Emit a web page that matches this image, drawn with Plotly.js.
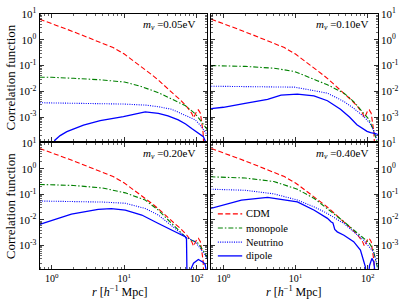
<!DOCTYPE html>
<html>
<head>
<meta charset="utf-8">
<script src="https://cdn.plot.ly/plotly-3.0.1.min.js"></script>
<style>html,body{margin:0;padding:0;background:#fff}#chart{width:399px;height:300px}</style>
</head>
<body>
<div id="chart"></div>
<script>
// ---- data (r in h^-1 Mpc, correlation function values) ----
const panelLabels = ["0.05eV", "0.10eV", "0.20eV", "0.40eV"];
const seriesNames = ["CDM", "monopole", "Neutrino", "dipole"];

const cdmR = [0.68, 1, 1.6, 2.5, 4.6, 7, 10, 14, 18.3, 25, 30, 38.6, 50, 59, 73, 85, 90, 95, 100, 105, 112, 118, 122, 127, 140];
const cdmV = [6.3, 4.3, 2.6, 1.6, 0.79, 0.5, 0.28, 0.14, 0.08, 0.04, 0.026, 0.013, 0.007, 0.0047, 0.0025, 0.0014, 0.00095, 0.00126, 0.00174, 0.0019, 0.0014, 0.0005, 0.00025, 0.000025, 0.000025];

// m_nu = 0.05 eV
const mono05R = [0.68, 1, 2, 4.6, 10, 16.5, 30, 45, 59, 69, 80, 95, 110, 130, 140];
const mono05V = [0.035, 0.035, 0.032, 0.028, 0.023, 0.016, 0.0087, 0.005, 0.0035, 0.0028, 0.002, 0.00135, 0.0008, 0.00043, 0.00032];
const neu05R = [0.68, 2, 5, 10, 20, 30, 45, 60, 80, 95, 110, 130, 140];
const neu05V = [0.0036, 0.0035, 0.0034, 0.0032, 0.0029, 0.0025, 0.002, 0.0014, 0.001, 0.00078, 0.0005, 0.00027, 0.0002];
const dip05R = [1.0, 1.1, 1.3, 1.61, 2.73, 4.64, 9.7, 19.4, 29.5, 40, 55.5, 70, 85, 100, 123, 134, 140];
const dip05V = [0.00005, 0.000126, 0.00019, 0.00027, 0.00049, 0.00072, 0.00105, 0.00158, 0.0014, 0.00112, 0.00078, 0.00054, 0.00036, 0.00026, 0.000174, 0.0001, 0.00005];

// m_nu = 0.10 eV
const mono10R = [0.68, 2, 5, 9.7, 20, 27.7, 47, 64, 88, 105, 120, 135, 140];
const mono10V = [0.1, 0.093, 0.079, 0.059, 0.026, 0.018, 0.0085, 0.004, 0.0014, 0.00079, 0.00032, 0.000126, 0.00008];
const neu10R = [0.68, 2, 5, 9.7, 27.7, 47, 64, 88, 105, 120, 135, 140];
const neu10V = [0.0158, 0.0155, 0.0148, 0.0145, 0.0085, 0.004, 0.0022, 0.00105, 0.00063, 0.00032, 0.00014, 0.0001];
const dip10R = [0.66, 1, 2, 4.1, 6.3, 10.6, 18, 27.7, 42, 56, 71, 85, 98, 110, 120, 135, 140];
const dip10V = [0.0021, 0.0024, 0.0034, 0.0049, 0.0071, 0.0078, 0.0066, 0.0043, 0.002, 0.001, 0.0005, 0.00035, 0.00028, 0.00025, 0.00024, 0.00022, 0.0002];

// m_nu = 0.20 eV
const mono20R = [0.68, 2, 5, 10.3, 19.4, 29.5, 50, 69, 85, 105, 130, 140];
const mono20V = [0.245, 0.224, 0.178, 0.115, 0.06, 0.024, 0.0054, 0.0022, 0.0016, 0.0012, 0.00049, 0.00032];
const neu20R = [0.68, 2, 5, 10.3, 19.4, 29.5, 50, 69, 95, 130, 140];
const neu20V = [0.055, 0.054, 0.05, 0.045, 0.028, 0.0155, 0.0047, 0.0022, 0.0014, 0.00042, 0.00028];
const dip20R = [0.68, 1, 1.86, 4.35, 6.6, 10.3, 17.4, 29.5, 50, 69, 72, 73.5, 78, 82, 90, 105, 122, 130, 137];
const dip20V = [0.0066, 0.0095, 0.017, 0.026, 0.0275, 0.024, 0.0155, 0.0072, 0.0034, 0.0022, 0.0018, 0.000025, 0.000025, 0.00011, 0.0002, 0.00028, 0.00022, 0.00018, 0.00008];

// m_nu = 0.40 eV
const mono40R = [0.66, 2, 5, 10.6, 18.2, 27.7, 46.9, 64, 88, 105, 120, 130, 140];
const mono40V = [0.49, 0.44, 0.32, 0.16, 0.069, 0.028, 0.0085, 0.004, 0.0019, 0.00126, 0.00066, 0.00025, 0.0001];
const neu40R = [0.66, 2, 5, 10.6, 18.2, 27.7, 46.9, 64, 88, 120, 135, 140];
const neu40V = [0.16, 0.145, 0.105, 0.06, 0.032, 0.0178, 0.0072, 0.0034, 0.0016, 0.00056, 0.0002, 0.000126];
const dip40R = [0.66, 1.78, 4.1, 7, 10.6, 18.2, 27.7, 31, 33, 35, 37.9, 46.9, 64, 79.4, 93, 97, 100, 106, 114.6, 122, 127, 132, 140];
const dip40V = [0.028, 0.06, 0.076, 0.063, 0.051, 0.024, 0.0115, 0.0085, 0.0076, 0.0042, 0.0034, 0.0025, 0.0014, 0.00066, 0.000145, 0.000025, 0.000025, 0.00016, 0.00031, 0.00022, 0.0001, 0.000025, 0.000025];

const xTickVals = [1, 10, 100];
const xTickText = ["10<sup>0</sup>", "10<sup>1</sup>", "10<sup>2</sup>"];
const yTickVals = [10, 1, 0.1, 0.01, 0.001];
const yTickText = ["10<sup>1</sup>", "10<sup>0</sup>", "10<sup>-1</sup>", "10<sup>-2</sup>", "10<sup>-3</sup>"];

// ---- build ----
const panels = [
  {mono: [mono05R, mono05V], neu: [neu05R, neu05V], dip: [dip05R, dip05V]},
  {mono: [mono10R, mono10V], neu: [neu10R, neu10V], dip: [dip10R, dip10V]},
  {mono: [mono20R, mono20V], neu: [neu20R, neu20V], dip: [dip20R, dip20V]},
  {mono: [mono40R, mono40V], neu: [neu40R, neu40V], dip: [dip40R, dip40V]}
];
const styles = [
  {color: "#ff0000", dash: "5px,2.5px", width: 1.1},
  {color: "#008000", dash: "5px,2px,1.5px,2px", width: 1.1},
  {color: "#0000ff", dash: "1px,1.3px", width: 1.1},
  {color: "#0000ff", dash: "solid", width: 1.3}
];
const traces = [];
panels.forEach((p, i) => {
  const ax = i === 0 ? "" : String(i + 1);
  const sets = [[cdmR, cdmV], p.mono, p.neu, p.dip];
  sets.forEach((s, k) => {
    traces.push({
      x: s[0], y: s[1], type: "scatter", mode: "lines",
      name: seriesNames[k], xaxis: "x" + ax, yaxis: "y" + ax,
      line: {color: styles[k].color, dash: styles[k].dash, width: styles[k].width},
      showlegend: false
    });
  });
});

const FONT = "Liberation Serif, Times New Roman, serif";
const minorX = [];
[0.1, 1, 10, 100].forEach(d => { for (let m = 2; m <= 9; m++) minorX.push(m * d); });
const minorY = [];
[0.0001, 0.001, 0.01, 0.1, 1].forEach(d => { for (let m = 2; m <= 9; m++) minorY.push(m * d); });

const xRange = [Math.log10(0.675), Math.log10(138.5)];
const yRange = [-3.93, 1];
const colDom = [[0.099, 0.519], [0.529, 0.947]];
const rowDom = [[0.53, 0.953], [0.103, 0.522]];

function xAxis(i) {
  const bottom = i >= 2;
  return {
    type: "log", range: xRange, domain: colDom[i % 2], anchor: "y" + (i === 0 ? "" : i + 1),
    tickmode: "array", tickvals: xTickVals, ticktext: xTickText, showticklabels: bottom,
    ticks: "inside", ticklen: 4, tickwidth: 0.8, tickcolor: "#000",
    minor: {tickmode: "array", tickvals: minorX, ticks: "inside", ticklen: 2, tickwidth: 0.6, tickcolor: "#000"},
    showline: true, linecolor: "#000", linewidth: 1, mirror: "allticks",
    showgrid: false, zeroline: false, tickfont: {family: FONT, size: 10, color: "#000"}
  };
}
function yAxis(i) {
  const right = i % 2 === 1;
  const a = {
    type: "log", range: yRange, domain: rowDom[Math.floor(i / 2)], anchor: "x" + (i === 0 ? "" : i + 1),
    side: right ? "right" : "left",
    tickmode: "array", tickvals: yTickVals, ticktext: yTickText,
    ticks: "inside", ticklen: 4, tickwidth: 0.8, tickcolor: "#000",
    minor: {tickmode: "array", tickvals: minorY, ticks: "inside", ticklen: 2, tickwidth: 0.6, tickcolor: "#000"},
    showline: true, linecolor: "#000", linewidth: 1, mirror: "allticks",
    showgrid: false, zeroline: false, tickfont: {family: FONT, size: 11, color: "#000"}
  };
  if (!right) a.title = {text: "Correlation function", font: {family: FONT, size: 13, color: "#000"}, standoff: 0};
  return a;
}

// panel labels (paper coords)
const labelX = [0.494, 0.927, 0.494, 0.927];
const labelY = [0.917, 0.917, 0.487, 0.487];
const annotations = panelLabels.map((t, i) => ({
  xref: "paper", yref: "paper", x: labelX[i], y: labelY[i], xanchor: "right", yanchor: "middle",
  showarrow: false, text: "<i>m</i><sub><i>\u03bd</i></sub> =" + t,
  font: {family: FONT, size: 11, color: "#000"}
}));

// x-axis titles under each column
[0.302, 0.737].forEach(x => annotations.push({
  xref: "paper", yref: "paper", x: x, y: 0, xanchor: "center", yanchor: "bottom", showarrow: false,
  borderpad: 0, text: "<i>r</i> [<i>h</i><sup>\u22121</sup> Mpc]", font: {family: FONT, size: 12, color: "#000"}
}));

// legend drawn in bottom-right panel
const legX0 = 0.546, legX1 = 0.607, legTextX = 0.612;
const legY = [0.287, 0.240, 0.193, 0.147];
const shapes = [];
seriesNames.forEach((n, k) => {
  shapes.push({type: "line", xref: "paper", yref: "paper", x0: legX0, x1: legX1, y0: legY[k], y1: legY[k],
    line: {color: styles[k].color, dash: styles[k].dash, width: styles[k].width}});
  annotations.push({xref: "paper", yref: "paper", x: legTextX, y: legY[k], xanchor: "left", yanchor: "middle",
    showarrow: false, text: n, font: {family: FONT, size: 10.5, color: "#000"}});
});

const layout = {
  width: 399, height: 300, margin: {l: 0, r: 0, t: 0, b: 0},
  paper_bgcolor: "#fff", plot_bgcolor: "#fff",
  font: {family: FONT, color: "#000"},
  showlegend: false,
  annotations: annotations,
  shapes: shapes
};
for (let i = 0; i < 4; i++) {
  const s = i === 0 ? "" : String(i + 1);
  layout["xaxis" + s] = xAxis(i);
  layout["yaxis" + s] = yAxis(i);
}
Plotly.newPlot("chart", traces, layout, {displayModeBar: false, staticPlot: true});
</script>
</body>
</html>
